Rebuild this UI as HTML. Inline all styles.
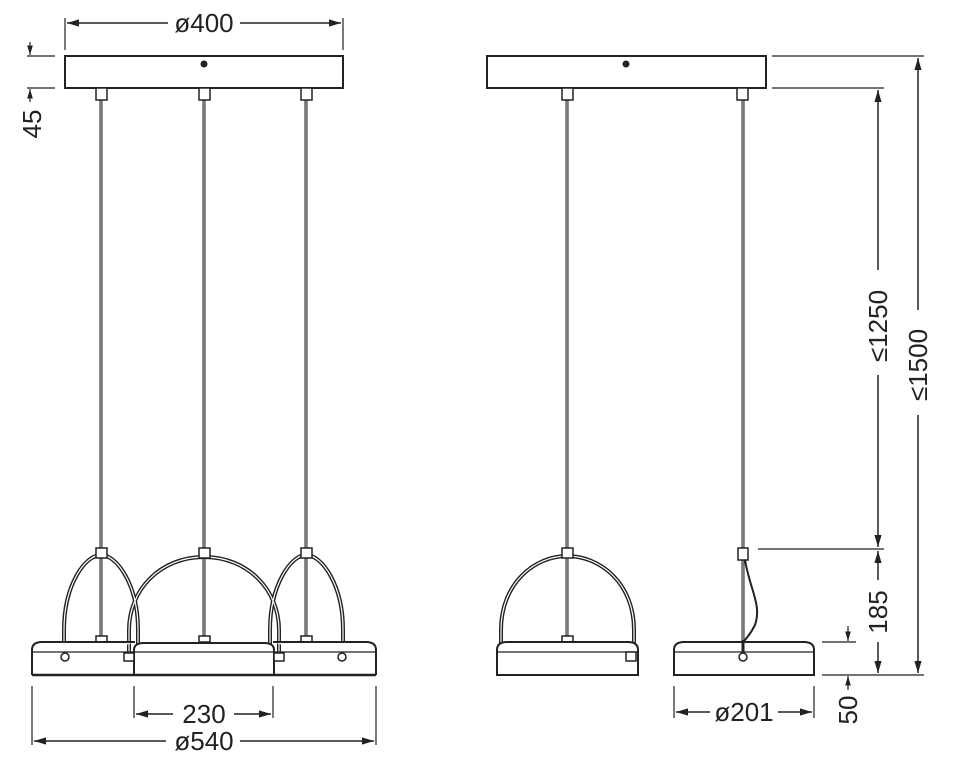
<!DOCTYPE html>
<html><head><style>html,body{margin:0;padding:0;background:#fff}svg{display:block}text{font-family:"Liberation Sans",sans-serif;font-size:26px;fill:#222}</style></head>
<body>
<svg width="955" height="767" viewBox="0 0 955 767" xmlns="http://www.w3.org/2000/svg">
<defs>
<marker id="a" viewBox="0 0 10 10" refX="10" refY="5" markerWidth="8" markerHeight="8" orient="auto-start-reverse"><path d="M0,2 L10,5 L0,8 z" fill="#222"/></marker>
</defs>
<g stroke="#222" stroke-width="2" fill="none">
<rect x="65" y="56" width="278" height="32" fill="#fff"/>
<line x1="65" y1="18" x2="65" y2="50" stroke-width="1.2"/><line x1="343" y1="18" x2="343" y2="50" stroke-width="1.2"/>
<line x1="67" y1="23" x2="168" y2="23" stroke-width="1.5" marker-start="url(#a)"/>
<line x1="240" y1="23" x2="341" y2="23" stroke-width="1.5" marker-end="url(#a)"/>
<line x1="27" y1="56" x2="55" y2="56" stroke-width="1.2"/><line x1="27" y1="88" x2="55" y2="88" stroke-width="1.2"/>
<line x1="30" y1="42" x2="30" y2="55" stroke-width="1.2" marker-end="url(#a)"/>
<line x1="30" y1="102" x2="30" y2="89" stroke-width="1.2" marker-end="url(#a)"/>
<g stroke-width="3"><line x1="101" y1="100" x2="101" y2="640"/><line x1="204" y1="100" x2="204" y2="640"/><line x1="306" y1="100" x2="306" y2="640"/>
<line x1="567" y1="100" x2="567" y2="640"/><line x1="743" y1="100" x2="743" y2="650"/></g>
<g stroke-width="0.8" stroke="#fff"><line x1="101" y1="100" x2="101" y2="640"/><line x1="204" y1="100" x2="204" y2="640"/><line x1="306" y1="100" x2="306" y2="640"/>
<line x1="567" y1="100" x2="567" y2="640"/><line x1="743" y1="100" x2="743" y2="650"/></g>
<g stroke-width="4"><path d="M64,656 L64,630 C64,585 85,555 101,555 C117,555 138,585 138,630 L138,656"/>
<path d="M129,656 L129,630 C129,590 160,557 204,557 C248,557 279,590 279,630 L279,656"/>
<path d="M270,656 L270,630 C270,585 291,555 306,555 C322,555 343,585 343,630 L343,656"/>
<path d="M501,656 L501,630 C501,583 535,556 567,556 C600,556 634,583 634,630 L634,656"/></g>
<g stroke-width="1.2" stroke="#fff"><path d="M64,656 L64,630 C64,585 85,555 101,555 C117,555 138,585 138,630 L138,656"/>
<path d="M129,656 L129,630 C129,590 160,557 204,557 C248,557 279,590 279,630 L279,656"/>
<path d="M270,656 L270,630 C270,585 291,555 306,555 C322,555 343,585 343,630 L343,656"/>
<path d="M501,656 L501,630 C501,583 535,556 567,556 C600,556 634,583 634,630 L634,656"/></g>
<g stroke-width="1.5" fill="#fff"><rect x="96" y="88" width="11" height="12"/><rect x="199" y="88" width="11" height="12"/><rect x="301" y="88" width="11" height="12"/>
<rect x="96" y="548" width="11" height="10"/><rect x="199" y="548" width="11" height="10"/><rect x="301" y="548" width="11" height="10"/>
<rect x="96" y="636" width="11" height="6"/><rect x="199" y="636" width="11" height="6"/><rect x="301" y="636" width="11" height="6"/></g>
<path d="M32,675 L32,650 Q32,642 42,642 L135,642" fill="#fff"/>
<path d="M376,675 L376,650 Q376,642 366,642 L273,642" fill="#fff"/>
<path d="M134,675 L134,650 Q134,643 144,643 L264,643 Q274,643 274,650 L274,675" fill="#fff"/>
<line x1="32" y1="675" x2="376" y2="675" stroke-width="2.5"/>
<line x1="32" y1="652" x2="376" y2="652" stroke-width="1.2"/>
<g stroke-width="1.5" fill="#fff"><circle cx="65" cy="657" r="4"/><circle cx="342" cy="657" r="4"/><rect x="124" y="653" width="10" height="8"/><rect x="274" y="653" width="10" height="8"/></g>
<g stroke-width="1.2"><line x1="134" y1="686" x2="134" y2="718"/><line x1="273" y1="686" x2="273" y2="718"/><line x1="32" y1="686" x2="32" y2="745"/><line x1="376" y1="686" x2="376" y2="745"/></g>
<line x1="136" y1="714" x2="173" y2="714" stroke-width="1.5" marker-start="url(#a)"/>
<line x1="234" y1="714" x2="271" y2="714" stroke-width="1.5" marker-end="url(#a)"/>
<line x1="34" y1="741" x2="166" y2="741" stroke-width="1.5" marker-start="url(#a)"/>
<line x1="240" y1="741" x2="374" y2="741" stroke-width="1.5" marker-end="url(#a)"/>

<rect x="487" y="56" width="279" height="32" fill="#fff"/>
<path d="M745,560 C750,590 762,605 755,625 C750,635 745,640 743,642" stroke-width="2"/>
<g stroke-width="1.5" fill="#fff"><rect x="562" y="88" width="11" height="12"/><rect x="737" y="88" width="11" height="12"/>
<rect x="562" y="548" width="11" height="10"/><rect x="738" y="548" width="10" height="12"/><rect x="562" y="636" width="11" height="6"/></g>
<path d="M497,675 L497,650 Q497,642 507,642 L628,642 Q638,642 638,650 L638,675 Z" fill="#fff"/>
<line x1="497" y1="652" x2="638" y2="652" stroke-width="1.2"/>
<rect x="626" y="652" width="10" height="9" stroke-width="1.5" fill="#fff"/>
<path d="M674,675 L674,650 Q674,642 684,642 L804,642 Q814,642 814,650 L814,675 Z" fill="#fff"/>
<line x1="674" y1="652" x2="814" y2="652" stroke-width="1.2"/>
<line x1="743" y1="640" x2="743" y2="652" stroke-width="3"/>
<circle cx="743" cy="657" r="4" stroke-width="1.5" fill="#fff"/>
<g stroke-width="1.2">
<line x1="772" y1="56" x2="924" y2="56"/><line x1="772" y1="88" x2="884" y2="88"/>
<line x1="758" y1="549" x2="884" y2="549"/><line x1="822" y1="642" x2="856" y2="642"/>
<line x1="822" y1="675" x2="924" y2="675"/>
<line x1="674" y1="686" x2="674" y2="718"/><line x1="814" y1="686" x2="814" y2="718"/>
</g>
<line x1="878" y1="270" x2="878" y2="90" stroke-width="1.5" marker-end="url(#a)"/>
<line x1="878" y1="375" x2="878" y2="547" stroke-width="1.5" marker-end="url(#a)"/>
<line x1="878" y1="580" x2="878" y2="551" stroke-width="1.5" marker-end="url(#a)"/>
<line x1="878" y1="642" x2="878" y2="673" stroke-width="1.5" marker-end="url(#a)"/>
<line x1="918" y1="310" x2="918" y2="58" stroke-width="1.5" marker-end="url(#a)"/>
<line x1="918" y1="415" x2="918" y2="673" stroke-width="1.5" marker-end="url(#a)"/>
<line x1="848" y1="626" x2="848" y2="641" stroke-width="1.2" marker-end="url(#a)"/>
<line x1="848" y1="690" x2="848" y2="676" stroke-width="1.2" marker-end="url(#a)"/>
<line x1="676" y1="712" x2="710" y2="712" stroke-width="1.5" marker-start="url(#a)"/>
<line x1="778" y1="712" x2="812" y2="712" stroke-width="1.5" marker-end="url(#a)"/>
</g>
<circle cx="204" cy="64" r="3.5" fill="#222"/>
<circle cx="626" cy="64" r="3.5" fill="#222"/>
<text x="204" y="32" text-anchor="middle">ø400</text>
<text x="204" y="723" text-anchor="middle">230</text>
<text x="204" y="750" text-anchor="middle">ø540</text>
<text x="744" y="721" text-anchor="middle">ø201</text>
<text transform="translate(41,124) rotate(-90)" text-anchor="middle">45</text>
<text transform="translate(887,326) rotate(-90)" text-anchor="middle">≤1250</text>
<text transform="translate(887,612) rotate(-90)" text-anchor="middle">185</text>
<text transform="translate(927,365) rotate(-90)" text-anchor="middle">≤1500</text>
<text transform="translate(857,710) rotate(-90)" text-anchor="middle">50</text>
</svg>
</body></html>
